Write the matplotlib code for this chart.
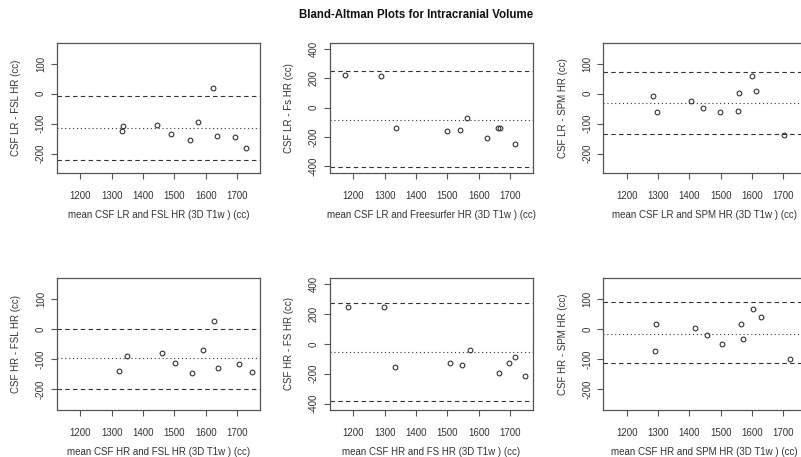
import matplotlib
matplotlib.use("Agg")
import matplotlib.pyplot as plt

# ---------------- data ----------------
title = "Bland-Altman Plots for Intracranial Volume"

p1_x = [1335, 1333, 1444, 1490, 1549, 1576, 1622, 1635, 1693, 1728]
p1_y = [-107, -126, -103, -134, -156, -94, 21, -140, -146, -181]
p1_lines = [-7, -114, -223]

p2_x = [1174, 1288, 1336, 1498, 1541, 1561, 1627, 1662, 1667, 1714]
p2_y = [219, 212, -142, -162, -149, -69, -205, -137, -137, -248]
p2_lines = [246, -83, -405]

p3_x = [1285, 1297, 1405, 1444, 1498, 1556, 1559, 1600, 1613, 1701]
p3_y = [-6, -60, -24, -49, -60, -57, 3, 60, 9, -139]
p3_lines = [74, -32, -135]

p4_x = [1324, 1348, 1461, 1501, 1555, 1591, 1626, 1640, 1706, 1748]
p4_y = [-138, -89, -78, -111, -147, -69, 29, -129, -114, -143]
p4_lines = [2, -97, -200]

p5_x = [1181, 1298, 1331, 1509, 1546, 1571, 1664, 1697, 1715, 1748]
p5_y = [245, 245, -154, -131, -140, -41, -194, -127, -89, -212]
p5_lines = [272, -57, -385]

p6_x = [1294, 1290, 1419, 1456, 1504, 1566, 1570, 1603, 1629, 1721]
p6_y = [17, -71, 4, -20, -50, 17, -32, 67, 40, -99]
p6_lines = [90, -14, -112]

xlabels = ["mean CSF LR and FSL HR (3D T1w ) (cc)",
           "mean CSF LR and Freesurfer HR (3D T1w ) (cc)",
           "mean CSF LR and SPM HR (3D T1w ) (cc)",
           "mean CSF HR and FSL HR (3D T1w ) (cc)",
           "mean CSF HR and FS HR (3D T1w ) (cc)",
           "mean CSF HR and SPM HR (3D T1w ) (cc)"]
ylabels = ["CSF LR - FSL HR (cc)", "CSF LR - Fs HR (cc)", "CSF LR - SPM HR (cc)",
           "CSF HR - FSL HR (cc)", "CSF HR - FS HR (cc)", "CSF HR - SPM HR (cc)"]

xticks = [1200, 1300, 1400, 1500, 1600, 1700]
yticks_small = [-200, -100, 0, 100]
yticks_big = [-400, -200, 0, 200, 400]

# ---------------- style ----------------
plt.rcParams['font.family'] = ['Liberation Sans', 'DejaVu Sans']
TXT = '#333333'
EDGE = '#555555'
FS = 7.0

W, H = 801, 457
fig = plt.figure(figsize=(W / 100, H / 100), dpi=100)
fig.patch.set_facecolor('white')

lefts = [57, 330, 603.3]
aw = 203
rows = [(43, 173), (278.3, 409.5)]

panels = [
    (p1_x, p1_y, p1_lines, yticks_small, (-265, 170)),
    (p2_x, p2_y, p2_lines, yticks_big, (-445, 440)),
    (p3_x, p3_y, p3_lines, yticks_small, (-265, 170)),
    (p4_x, p4_y, p4_lines, yticks_small, (-267, 170)),
    (p5_x, p5_y, p5_lines, yticks_big, (-440, 440)),
    (p6_x, p6_y, p6_lines, yticks_small, (-267, 170)),
]

for i, (xs, ys, lines, yt, ylim) in enumerate(panels):
    r, c = divmod(i, 3)
    top, bot = rows[r]
    ax = fig.add_axes([lefts[c] / W, 1 - bot / H, aw / W, (bot - top) / H])
    ax.set_xlim(1125, 1773)
    ax.set_ylim(*ylim)
    ax.plot(xs, ys, linestyle='none', marker='o', markersize=3.4,
            markerfacecolor='none', markeredgecolor='#333333', markeredgewidth=0.8)
    ax.axhline(lines[0], color='#333333', lw=0.8, linestyle=(0, (4, 3)))
    ax.axhline(lines[1], color='#333333', lw=0.8, linestyle=(0, (1, 2.5)))
    ax.axhline(lines[2], color='#333333', lw=0.8, linestyle=(0, (4, 3)))
    ax.set_xticks(xticks)
    ax.set_yticks(yt)
    ax.set_yticklabels([str(v) for v in yt], rotation=90, va='center')
    ax.tick_params(axis='both', direction='out', length=4, width=0.8,
                   color=EDGE, labelcolor=TXT, labelsize=FS)
    ax.tick_params(axis='x', pad=9)
    ax.tick_params(axis='y', pad=4)
    for s in ax.spines.values():
        s.set_color(EDGE)
        s.set_linewidth(0.9)
    ax.set_xlabel(xlabels[i], fontsize=FS, color=TXT, va='center')
    ax.xaxis.set_label_coords(0.5, -0.325)
    ax.set_ylabel(ylabels[i], fontsize=FS, color=TXT, va='center')
    ax.yaxis.set_label_coords(-0.2, 0.5)

fig.text(416 / W, 1 - 15.5 / H, title, ha='center', va='center',
         fontsize=8.3, fontweight='bold', color='#111111')

fig.savefig('out.png', dpi=100)
